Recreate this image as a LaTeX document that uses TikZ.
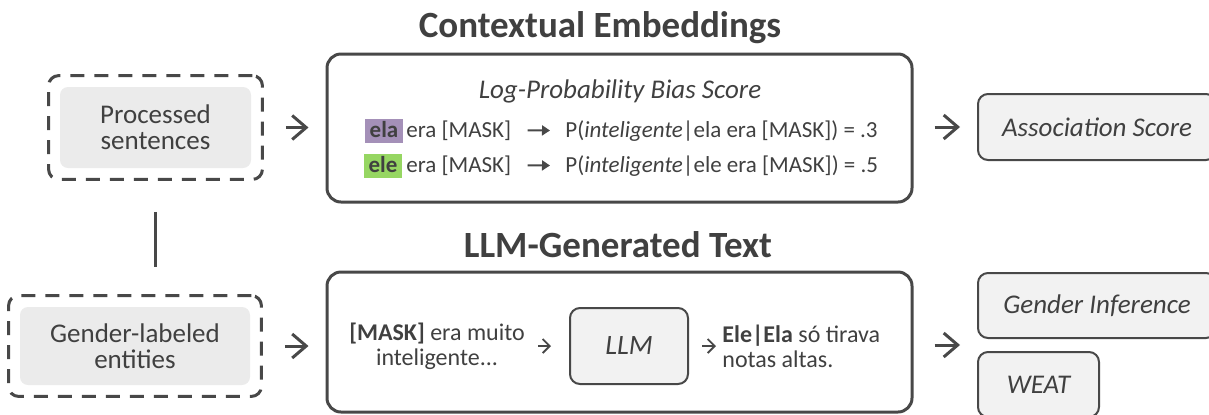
\documentclass[tikz,border=0pt]{standalone}
\usepackage{fontspec}
\setmainfont{Carlito}
\usepackage{tikz}
\usetikzlibrary{positioning,arrows.meta,fit,calc}
\definecolor{inkgray}{RGB}{64,64,64}
\definecolor{rulegray}{RGB}{72,72,72}
\definecolor{softgray}{RGB}{235,235,235}
\definecolor{palegray}{RGB}{242,242,242}
\definecolor{elapurple}{RGB}{164,144,184}
\definecolor{elegreen}{RGB}{150,214,98}
\tikzset{
  srcbox/.style={rectangle,rounded corners=4pt,fill=softgray,text=inkgray,align=center,font=\fontsize{13.5}{13}\selectfont},
  dashbox/.style={rectangle,rounded corners=5pt,draw=rulegray,line width=1.5pt,dash pattern=on 7pt off 5pt,inner sep=5.5pt},
  panel/.style={rectangle,rounded corners=7pt,draw=rulegray,line width=1.5pt,minimum width=292.5pt},
  outbox/.style={rectangle,rounded corners=5pt,draw=rulegray,line width=1pt,fill=palegray,text=inkgray,font=\itshape\fontsize{13.5}{16}\selectfont},
  headline/.style={text=inkgray,font=\bfseries\fontsize{18.5}{21}\selectfont,anchor=base},
  rowtext/.style={text=inkgray,font=\fontsize{11.5}{14}\selectfont,inner sep=0pt,anchor=base west},
  hl/.style={text=inkgray,font=\bfseries\fontsize{11.5}{14}\selectfont,inner sep=0pt,minimum width=19pt,text height=9pt,text depth=3pt,anchor=base},
  gentext/.style={text=inkgray,font=\fontsize{12}{12.5}\selectfont,inner sep=0pt},
  flowarrow/.style={-{Straight Barb[length=7pt,width=12pt]},line width=1.5pt,draw=rulegray},
  smallarrow/.style={-{Straight Barb[length=3.5pt,width=7pt]},line width=0.9pt,draw=rulegray},
  rowarrow/.style={-{Triangle[length=4pt,width=5pt]},line width=1pt,draw=rulegray}
}
\begin{document}
\begin{tikzpicture}[x=0.5pt,y=-0.5pt]
  \useasboundingbox (0,0) rectangle (1209,414);
  \node[srcbox,minimum width=95.5pt,minimum height=40.5pt] (sent) at (155.5,127.5) {Processed\\sentences};
  \node[dashbox,fit=(sent)] (pre1) {};
  \node[srcbox,minimum width=115pt,minimum height=39pt] (ents) at (135,346) {Gender-labeled\\entities};
  \node[dashbox,fit=(ents)] (pre2) {};
  \draw[line width=1.5pt,draw=rulegray,shorten <=15.5pt,shorten >=13.5pt] (pre1.south) -- (pre1.south |- pre2.north);

  \node[headline] (cetitle) at (600,37) {Contextual Embeddings};
  \node[panel,minimum height=74pt] (cepanel) at (619.5,128) {};
  \node[headline] (gentitle) at (618,257) {LLM-Generated Text};
  \node[panel,minimum height=70pt] (genpanel) at (619.5,342) {};

  \node[text=inkgray,font=\itshape\fontsize{13.5}{16}\selectfont,anchor=base] (lpbs) at (620,98) {Log-Probability Bias Score};
  \node[hl,fill=elapurple] (ela) at (384,137) {ela};
  \node[rowtext] (elamask) at (406,137) {era [MASK]};
  \node[rowtext] (elaprob) at (565,137) {P(\textit{inteligente}|ela era [MASK]) = .3};
  \node[hl,fill=elegreen] (ele) at (383,172) {ele};
  \node[rowtext] (elemask) at (406,172) {era [MASK]};
  \node[rowtext] (eleprob) at (565,172) {P(\textit{inteligente}|ele era [MASK]) = .5};
  \draw[rowarrow,shorten <=8pt,shorten >=7.5pt] (elamask.east) -- (elaprob.west);
  \draw[rowarrow,shorten <=8pt,shorten >=7.5pt] (elemask.east) -- (eleprob.west);

  \node[gentext,align=center] (prompt) at (437,346) {\textbf{[MASK]} era muito\\inteligente...};
  \node[outbox,font=\itshape\fontsize{14}{16}\selectfont,minimum width=59pt,minimum height=38pt] (llm) at (629,346) {LLM};
  \node[gentext,align=left,anchor=west] (reply) at (722,346) {\textbf{Ele|Ela} só tirava\\notas altas.};
  \draw[smallarrow,shorten <=6.5pt,shorten >=9pt] (prompt.east) -- (llm.west);
  \draw[smallarrow,shorten <=6.5pt,shorten >=3pt] (llm.east) -- (reply.west);

  \draw[flowarrow,shorten <=11pt,shorten >=8.5pt] (pre1.east) -- (pre1.east -| cepanel.west);
  \draw[flowarrow,shorten <=11pt,shorten >=8.5pt] (pre2.east) -- (pre2.east -| genpanel.west);

  \node[outbox,minimum width=119pt,minimum height=33pt] (assoc) at (1097,127) {Association Score};
  \draw[flowarrow,shorten <=10.5pt,shorten >=8.5pt] (cepanel.east |- assoc.west) -- (assoc.west);
  \node[outbox,minimum width=119pt,minimum height=32.5pt] (infer) at (1097,305.5) {Gender Inference};
  \node[outbox,minimum width=60.5pt,minimum height=32.5pt] (weat) at (1038.5,384.5) {WEAT};
  \coordinate (split) at ($(infer.south west)!0.5!(weat.north west)$);
  \draw[flowarrow,shorten <=10.5pt,shorten >=8.5pt] (genpanel.east |- split) -- (split);
\end{tikzpicture}
\end{document}
